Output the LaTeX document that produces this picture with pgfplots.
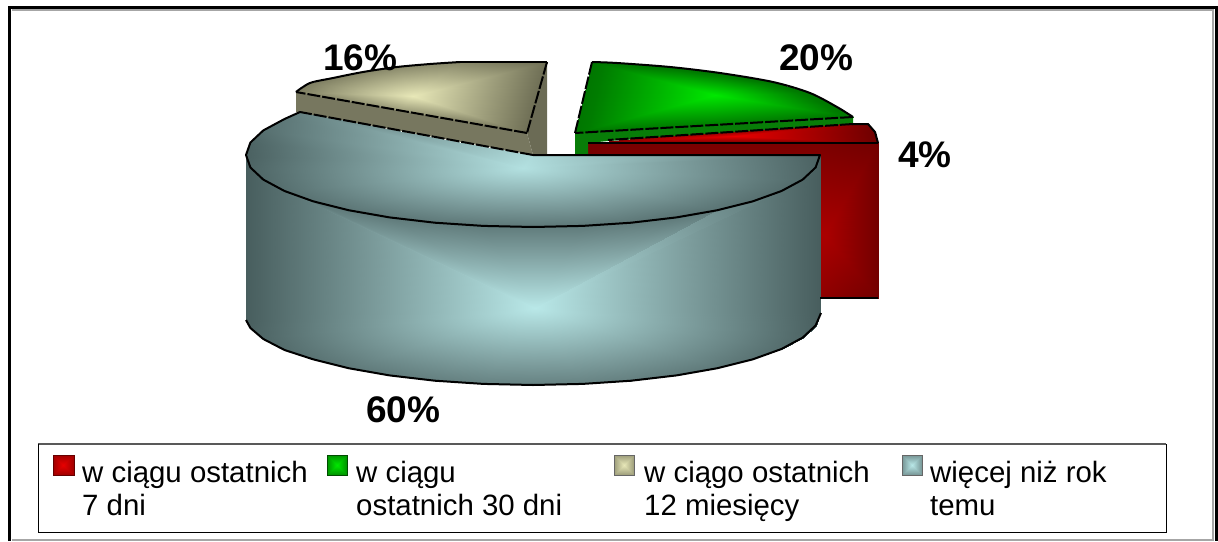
\documentclass[border=0pt]{standalone}
\usepackage{fontspec}
\setmainfont{Liberation Sans}
\usepackage{pgfplots}
\pgfplotsset{compat=1.18}
\definecolor{greenwall}{RGB}{8,125,8}
\definecolor{tanright}{RGB}{107,107,85}
\definecolor{tanfront}{RGB}{119,119,95}
\pgfplotsset{
  colormap={redc}{color(0)=(rgb,255:red,70;green,0;blue,0) color(1)=(rgb,255:red,232;green,0;blue,0)},
  colormap={greenc}{color(0)=(rgb,255:red,0;green,64;blue,0) color(0.5)=(rgb,255:red,0;green,124;blue,0) color(1)=(rgb,255:red,0;green,232;blue,0)},
  colormap={tanc}{color(0)=(rgb,255:red,80;green,80;blue,60) color(1)=(rgb,255:red,232;green,232;blue,184)},
  colormap={tealc}{color(0)=(rgb,255:red,62;green,82;blue,82) color(0.5)=(rgb,255:red,124;green,156;blue,156) color(1)=(rgb,255:red,185;green,232;blue,232)},
  fan/.style={patch,patch type=triangle,shader=interp,point meta=explicit,colormap name=#1},
  ol/.style={black,line width=2pt,no marks,forget plot,line join=round},
  dl/.style={ol,dash pattern=on 13pt off 2pt},
  key/.style={line width=1pt,no marks,forget plot},
}
\tikzset{
  leg/.style={anchor=base west,font=\fontsize{29.4}{33}\selectfont,inner sep=0pt},
  big/.style={anchor=base west,font=\fontsize{37}{40}\selectfont\bfseries,inner sep=0pt},
}
\begin{document}
\begin{tikzpicture}
\begin{axis}[
  scale only axis,width=1218pt,height=541pt,
  xmin=0,xmax=1218,ymin=0,ymax=541,y dir=reverse,
  xtick=\empty,ytick=\empty,axis line style={draw=none},
  point meta min=0,point meta max=1,clip=true]

% red slice: wall
\addplot[fan=redc] coordinates {
(825,235)[.62] (588,143)[.3] (820,143)[.33]
(825,235)[.62] (820,143)[.33] (878,143)[.28]
(825,235)[.62] (878,143)[.28] (878,298)[.28]
(825,235)[.62] (878,298)[.28] (820,298)[.45]
(825,235)[.62] (820,298)[.45] (588,155)[.3]
(825,235)[.62] (588,155)[.3] (588,143)[.3]
};
% green slice: wall and top
\addplot[fill=greenwall,draw=none,forget plot] coordinates {
(575,133)(853,117)(853,125)(608,141)(588,143)(588,155)(575,155)};
\addplot[fan=greenc] coordinates {
(715,95)[1] (575,133)[.45] (592,62)[.45]
(715,95)[1] (592,62)[.45] (617,63)[.45]
(715,95)[1] (617,63)[.45] (670,67)[.45]
(715,95)[1] (670,67)[.45] (720,73)[.45]
(715,95)[1] (720,73)[.45] (773,82)[.45]
(715,95)[1] (773,82)[.45] (810,93)[.45]
(715,95)[1] (810,93)[.45] (837,107)[.45]
(715,95)[1] (837,107)[.45] (853,117)[.45]
(715,95)[1] (853,117)[.45] (714,125)[.5]
(715,95)[1] (714,125)[.5] (575,133)[.45]
};
% red slice: top
\addplot[fan=redc] coordinates {
(735,136)[1] (588,143)[.3] (640,138)[.5]
(735,136)[1] (640,138)[.5] (853,123)[.35]
(735,136)[1] (853,123)[.35] (868,124)[.3]
(735,136)[1] (868,124)[.3] (875,132)[.25]
(735,136)[1] (875,132)[.25] (878,143)[.25]
(735,136)[1] (878,143)[.25] (588,143)[.3]
};
% tan slice: walls and top
\addplot[fill=tanright,draw=none,forget plot] coordinates {
(527,133)(547,62)(547,155)(533,155)};
\addplot[fill=tanfront,draw=none,forget plot] coordinates {
(296,92)(527,133)(533,155)(296,112)};
\addplot[fan=tanc] coordinates {
(413,96)[1] (296,92)[.3] (310,83)[.3]
(413,96)[1] (310,83)[.3] (333,78)[.33]
(413,96)[1] (333,78)[.33] (363,72)[.36]
(413,96)[1] (363,72)[.36] (397,67)[.38]
(413,96)[1] (397,67)[.38] (430,64)[.38]
(413,96)[1] (430,64)[.38] (460,62)[.36]
(413,96)[1] (460,62)[.36] (547,62)[.2]
(413,96)[1] (547,62)[.2] (527,133)[.2]
(413,96)[1] (527,133)[.2] (400,110)[.5]
(413,96)[1] (400,110)[.5] (296,92)[.3]
};
% teal slice: wall
\addplot[fan=tealc] coordinates {
(535,308)[1] (820,155)[.08] (820,313)[.08]
(535,308)[1] (820,313)[.08] (815.6,325.5)[.1]
(535,308)[1] (815.6,325.5)[.1] (802.7,337.6)[.14]
(535,308)[1] (802.7,337.6)[.14] (781.5,349)[.18]
(535,308)[1] (781.5,349)[.18] (752.9,359.3)[.22]
(535,308)[1] (752.9,359.3)[.22] (717.5,368.2)[.26]
(535,308)[1] (717.5,368.2)[.26] (676.5,375.4)[.28]
(535,308)[1] (676.5,375.4)[.28] (631.2,380.7)[.3]
(535,308)[1] (631.2,380.7)[.3] (582.8,383.9)[.32]
(535,308)[1] (582.8,383.9)[.32] (533,385)[.32]
(535,308)[1] (533,385)[.32] (483.2,383.9)[.32]
(535,308)[1] (483.2,383.9)[.32] (434.8,380.7)[.3]
(535,308)[1] (434.8,380.7)[.3] (389.5,375.4)[.28]
(535,308)[1] (389.5,375.4)[.28] (348.5,368.2)[.26]
(535,308)[1] (348.5,368.2)[.26] (313.1,359.3)[.22]
(535,308)[1] (313.1,359.3)[.22] (284.5,350)[.18]
(535,308)[1] (284.5,350)[.18] (263.3,339)[.14]
(535,308)[1] (263.3,339)[.14] (250.4,328)[.1]
(535,308)[1] (250.4,328)[.1] (246,320)[.08]
(535,308)[1] (246,320)[.08] (246,155)[.08]
(535,308)[1] (246,155)[.08] (263,180)[.16]
(535,308)[1] (263,180)[.16] (313,201)[.24]
(535,308)[1] (313,201)[.24] (390,217)[.27]
(535,308)[1] (390,217)[.27] (483,226)[.28]
(535,308)[1] (483,226)[.28] (583,226)[.28]
(535,308)[1] (583,226)[.28] (677,217)[.27]
(535,308)[1] (677,217)[.27] (753,201)[.24]
(535,308)[1] (753,201)[.24] (803,180)[.16]
(535,308)[1] (803,180)[.16] (820,155)[.08]
};
% teal slice: top
\addplot[fan=tealc] coordinates {
(523,168)[.95] (533,155)[.9] (610,155)[.7]
(523,168)[.95] (610,155)[.7] (687,155)[.52]
(523,168)[.95] (687,155)[.52] (760,155)[.3]
(523,168)[.95] (760,155)[.3] (820,155)[.1]
(523,168)[.95] (820,155)[.1] (815.6,167.5)[.12]
(523,168)[.95] (815.6,167.5)[.12] (802.7,179.6)[.16]
(523,168)[.95] (802.7,179.6)[.16] (781.5,191)[.18]
(523,168)[.95] (781.5,191)[.18] (752.9,201.3)[.2]
(523,168)[.95] (752.9,201.3)[.2] (717.5,210.2)[.22]
(523,168)[.95] (717.5,210.2)[.22] (676.5,217.4)[.22]
(523,168)[.95] (676.5,217.4)[.22] (631.2,222.7)[.24]
(523,168)[.95] (631.2,222.7)[.24] (582.8,225.9)[.25]
(523,168)[.95] (582.8,225.9)[.25] (533,227)[.25]
(523,168)[.95] (533,227)[.25] (483.2,225.9)[.25]
(523,168)[.95] (483.2,225.9)[.25] (434.8,222.7)[.25]
(523,168)[.95] (434.8,222.7)[.25] (389.5,217.4)[.25]
(523,168)[.95] (389.5,217.4)[.25] (348.5,210.2)[.24]
(523,168)[.95] (348.5,210.2)[.24] (313.1,201.3)[.22]
(523,168)[.95] (313.1,201.3)[.22] (284.5,191)[.2]
(523,168)[.95] (284.5,191)[.2] (263.3,179.6)[.16]
(523,168)[.95] (263.3,179.6)[.16] (250.4,167.5)[.13]
(523,168)[.95] (250.4,167.5)[.13] (246,155)[.1]
(523,168)[.95] (246,155)[.1] (250.4,142.5)[.12]
(523,168)[.95] (250.4,142.5)[.12] (263.3,130.4)[.2]
(523,168)[.95] (263.3,130.4)[.2] (284.5,119)[.26]
(523,168)[.95] (284.5,119)[.26] (300,112)[.32]
(523,168)[.95] (300,112)[.32] (400,131)[.5]
(523,168)[.95] (400,131)[.5] (470,144)[.7]
(523,168)[.95] (470,144)[.7] (533,155)[.9]
};
% outlines
\addplot[dl] coordinates {(575,133)(592,62)};
\addplot[ol,smooth] coordinates {(592,62)(617,63)(670,67)(720,73)(773,82)(810,93)(837,107)(853,117)};
\addplot[dl] coordinates {(853,117)(575,133)};
\addplot[dl] coordinates {(853,124)(608,140)};
\addplot[ol] coordinates {(852,124)(868,124)(875,132)(878,143)};
\addplot[ol] coordinates {(588,143)(878,143)};
\addplot[ol] coordinates {(820,298)(878,298)};
\addplot[ol,smooth] coordinates {(296,92)(310,83)(333,78)(363,72)(397,67)(430,64)(460,62)};
\addplot[ol] coordinates {(460,62)(547,62)};
\addplot[dl] coordinates {(547,62)(527,133)};
\addplot[dl] coordinates {(527,133)(296,92)};
\addplot[dl] coordinates {(533,155)(300,112)};
\addplot[ol] coordinates {(300,112)(284.5,119)(263.3,130.4)(250.4,142.5)(246,155)(250.4,167.5)(263.3,179.6)(284.5,191)(313.1,201.3)(348.5,210.2)(389.5,217.4)(434.8,222.7)(483.2,225.9)(533,227)(582.8,225.9)(631.2,222.7)(676.5,217.4)(717.5,210.2)(752.9,201.3)(781.5,191)(802.7,179.6)(815.6,167.5)(820,155)(533,155)};
\addplot[ol] coordinates {(246,320)(250.4,328)(263.3,339)(284.5,350)(313.1,359.3)(348.5,368.2)(389.5,375.4)(434.8,380.7)(483.2,383.9)(533,385)(582.8,383.9)(631.2,380.7)(676.5,375.4)(717.5,368.2)(752.9,359.3)(781.5,349)(802.7,337.6)(815.6,325.5)(821,313)};

% frame
\addplot[gray!70,line width=1.5pt,no marks,forget plot] coordinates {(12,10)(1213,10)(1213,540)(12,540)};
\addplot[black,line width=3.5pt,no marks,forget plot] coordinates {(9.5,541)(9.5,7.5)(1217,7.5)(1217,541)};
% legend box
\addplot[gray!70!black,line width=1.2pt,no marks,forget plot] coordinates {(38,444)(1166,444)};
\addplot[black,line width=1pt,no marks,forget plot] coordinates {(1166,444)(1166,532)(38,532)(38,444)};
% legend keys
\addplot[fan=redc] coordinates {
(63,465)[1] (53,455)[.55] (74,455)[.55]
(63,465)[1] (74,455)[.55] (74,475)[.55]
(63,465)[1] (74,475)[.55] (53,475)[.55]
(63,465)[1] (53,475)[.55] (53,455)[.55]};
\addplot[key,draw=red!40!black] coordinates {(53,455)(74,455)(74,475)(53,475)(53,455)};
\addplot[fan=greenc] coordinates {
(337,465)[1] (327,455)[.6] (347,455)[.6]
(337,465)[1] (347,455)[.6] (347,475)[.6]
(337,465)[1] (347,475)[.6] (327,475)[.6]
(337,465)[1] (327,475)[.6] (327,455)[.6]};
\addplot[key,draw=green!30!black] coordinates {(327,455)(347,455)(347,475)(327,475)(327,455)};
\addplot[fan=tanc] coordinates {
(624,465)[1] (614,455)[.5] (634,455)[.5]
(624,465)[1] (634,455)[.5] (634,475)[.5]
(624,465)[1] (634,475)[.5] (614,475)[.5]
(624,465)[1] (614,475)[.5] (614,455)[.5]};
\addplot[key,draw=black!60] coordinates {(614,455)(634,455)(634,475)(614,475)(614,455)};
\addplot[fan=tealc] coordinates {
(912,465)[1] (902,455)[.45] (922,455)[.45]
(912,465)[1] (922,455)[.45] (922,475)[.45]
(912,465)[1] (922,475)[.45] (902,475)[.45]
(912,465)[1] (902,475)[.45] (902,455)[.45]};
\addplot[key,draw=black!60] coordinates {(902,455)(922,455)(922,475)(902,475)(902,455)};
% texts
\node[big] at (axis cs:323,70) {16\%};
\node[big] at (axis cs:779,70) {20\%};
\node[big] at (axis cs:898,167) {4\%};
\node[big] at (axis cs:366,422) {60\%};
\node[leg] at (axis cs:82,482) {w ciągu ostatnich};
\node[leg] at (axis cs:82,515) {7 dni};
\node[leg] at (axis cs:356,482) {w ciągu};
\node[leg] at (axis cs:356,515) {ostatnich 30 dni};
\node[leg] at (axis cs:644,482) {w ciągo ostatnich};
\node[leg] at (axis cs:644,515) {12 miesięcy};
\node[leg] at (axis cs:930,482) {więcej niż rok};
\node[leg] at (axis cs:930,515) {temu};
\end{axis}
\end{tikzpicture}
\end{document}
